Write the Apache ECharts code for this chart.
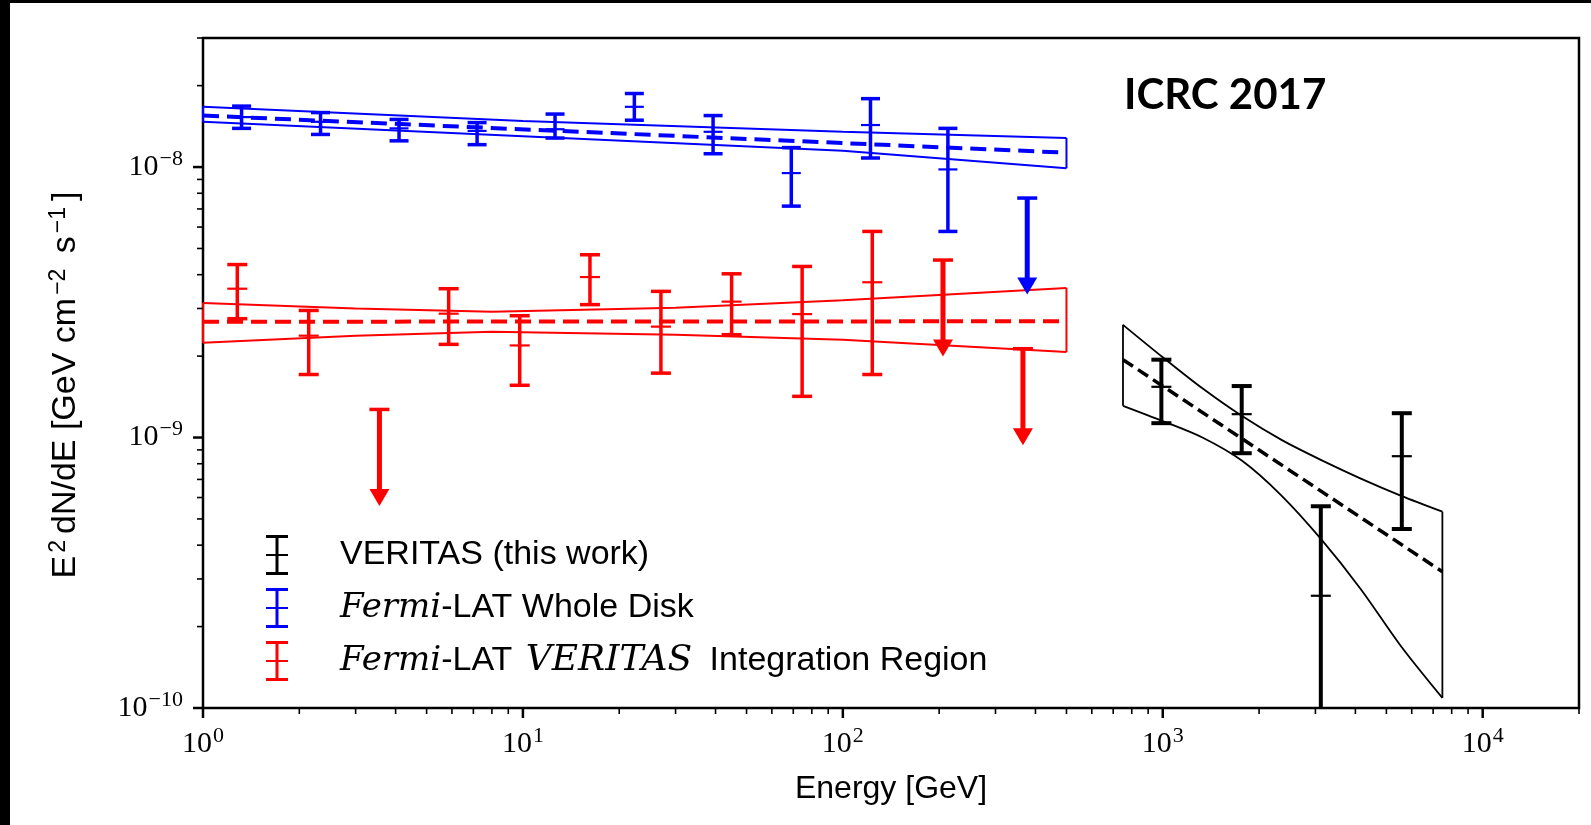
<!DOCTYPE html>
<html><head><meta charset="utf-8">
<script src="https://cdn.jsdelivr.net/npm/echarts@6/dist/echarts.min.js"></script>
<style>html,body{margin:0;padding:0;background:#000;} #c{width:1591px;height:825px;}</style>
</head><body><div id="c"></div>
<script>
// ---------------- data ----------------
// Fermi-LAT Whole Disk (blue)
const blueE  = [1.32, 2.33, 4.10, 7.19, 12.6, 22.3, 39.3, 69.0, 122, 213];
const blueF  = [1.53e-8, 1.47e-8, 1.39e-8, 1.36e-8, 1.38e-8, 1.67e-8, 1.35e-8, 9.5e-9, 1.43e-8, 9.8e-9];
const blueLo = [1.39e-8, 1.32e-8, 1.25e-8, 1.21e-8, 1.28e-8, 1.49e-8, 1.12e-8, 7.17e-9, 1.08e-8, 5.78e-9];
const blueHi = [1.68e-8, 1.59e-8, 1.50e-8, 1.46e-8, 1.57e-8, 1.87e-8, 1.55e-8, 1.18e-8, 1.79e-8, 1.39e-8];
const blueUlE = [377];
const blueUlF = [7.68e-9];
const blueBandE  = [1, 10, 100, 500];
const blueBandHi = [1.67e-8, 1.48e-8, 1.35e-8, 1.28e-8];
const blueBandLo = [1.47e-8, 1.30e-8, 1.15e-8, 9.9e-9];
const blueFitE = [1, 500];
const blueFitF = [1.55e-8, 1.13e-8];

// Fermi-LAT VERITAS Integration Region (red)
const redE  = [1.28, 2.14, 5.86, 9.77, 16.2, 27.0, 44.9, 74.6, 123.6];
const redF  = [3.55e-9, 2.38e-9, 2.87e-9, 2.19e-9, 3.92e-9, 2.57e-9, 3.18e-9, 2.86e-9, 3.75e-9];
const redLo = [2.75e-9, 1.71e-9, 2.21e-9, 1.56e-9, 3.10e-9, 1.73e-9, 2.40e-9, 1.42e-9, 1.71e-9];
const redHi = [4.36e-9, 2.95e-9, 3.55e-9, 2.82e-9, 4.74e-9, 3.47e-9, 4.03e-9, 4.29e-9, 5.78e-9];
const redUlE = [3.56, 205.6, 365.5];
const redUlF = [1.27e-9, 4.53e-9, 2.13e-9];
const redBandE  = [1, 3, 8, 30, 100, 500];
const redBandHi = [3.14e-9, 3.00e-9, 2.92e-9, 3.02e-9, 3.22e-9, 3.57e-9];
const redBandLo = [2.24e-9, 2.38e-9, 2.46e-9, 2.40e-9, 2.30e-9, 2.07e-9];
const redFitE = [1, 500];
const redFitF = [2.68e-9, 2.69e-9];

// VERITAS (black)
const blackE  = [990, 1765, 3119, 5587];
const blackF  = [1.54e-9, 1.22e-9, 2.60e-10, 8.53e-10];
const blackLo = [1.13e-9, 8.75e-10, 5e-11, 4.59e-10];
const blackHi = [1.94e-9, 1.55e-9, 5.57e-10, 1.23e-9];
const blackBandE  = [751, 1000, 1330, 1770, 2350, 3130, 4160, 5540, 7482];
const blackBandHi = [2.61e-9, 1.98e-9, 1.52e-9, 1.20e-9, 9.8e-10, 8.25e-10, 7.05e-10, 6.1e-10, 5.32e-10];
const blackBandLo = [1.31e-9, 1.15e-9, 1.0e-9, 8.2e-10, 6.1e-10, 4.2e-10, 2.75e-10, 1.7e-10, 1.09e-10];
const blackFitE = [751, 7482];
const blackFitF = [1.94e-9, 3.19e-10];

// axes
const X_MIN = 1, X_MAX = 2e4, Y_MIN = 1e-10, Y_MAX = 3e-8;
const xMajorTicks = [1, 10, 100, 1000, 10000];
const xMinorTicks = [2,3,4,5,6,7,8,9, 20,30,40,50,60,70,80,90, 200,300,400,500,600,700,800,900,
                     2000,3000,4000,5000,6000,7000,8000,9000, 20000];
const yMajorTicks = [1e-10, 1e-9, 1e-8];
const yMinorTicks = [2e-10,3e-10,4e-10,5e-10,6e-10,7e-10,8e-10,9e-10,
                     2e-9,3e-9,4e-9,5e-9,6e-9,7e-9,8e-9,9e-9, 2e-8, 3e-8];

const legendNames = ['VERITAS (this work)', 'Fermi-LAT Whole Disk', 'Fermi-LAT VERITAS Integration Region'];
const ARROW_RATIO = 0.44;

// ---------------- helpers ----------------
const zip = (a, b) => a.map((v, i) => [v, b[i]]);
const zip4 = (a, b, c, d) => a.map((v, i) => [v, b[i], c[i], d[i]]);
const measureCtx = document.createElement('canvas').getContext('2d');
function textWidth(t, size) { measureCtx.font = size + 'px "Liberation Serif"'; return measureCtx.measureText(t).width; }

function bandSeries(E, hi, lo, color, width, smooth) {
  const n = E.length - 1;
  const common = {type: 'line', symbol: 'none', silent: true, z: 2, smooth: smooth || false,
                  lineStyle: {color: color, width: width}, itemStyle: {color: color}};
  return [
    Object.assign({}, common, {data: zip(E, hi)}),
    Object.assign({}, common, {data: zip(E, lo)}),
    Object.assign({}, common, {smooth: false, data: [[E[0], hi[0]], [E[0], lo[0]]]}),
    Object.assign({}, common, {smooth: false, data: [[E[n], hi[n]], [E[n], lo[n]]]})
  ];
}
function fitSeries(E, F, color, width, dash) {
  return {type: 'line', data: zip(E, F), symbol: 'none', silent: true, z: 3,
          lineStyle: {color: color, width: width, type: dash}};
}
function errSeries(name, E, F, lo, hi, color, lw, capW) {
  return {
    type: 'custom', name: name, clip: true, z: 5, silent: true,
    itemStyle: {color: color},
    encode: {x: 0, y: 1},
    data: zip4(E, F, lo, hi),
    renderItem: function (params, api) {
      const x = api.value(0), y = api.value(1), lo = api.value(2), hi = api.value(3);
      const pc = api.coord([x, y]), pl = api.coord([x, lo]), ph = api.coord([x, hi]);
      const st = {stroke: color, lineWidth: lw};
      const h = capW / 2;
      return {type: 'group', children: [
        {type: 'line', shape: {x1: pc[0], y1: pl[1], x2: pc[0], y2: ph[1]}, style: st},
        {type: 'line', shape: {x1: pc[0]-h, y1: ph[1], x2: pc[0]+h, y2: ph[1]}, style: st},
        {type: 'line', shape: {x1: pc[0]-h, y1: pl[1], x2: pc[0]+h, y2: pl[1]}, style: st},
        {type: 'line', shape: {x1: pc[0]-h, y1: pc[1], x2: pc[0]+h, y2: pc[1]}, style: {stroke: color, lineWidth: 2.2}}
      ]};
    }
  };
}
function ulSeries(E, F, color) {
  return {
    type: 'custom', z: 5, silent: true, clip: false,
    itemStyle: {color: color},
    encode: {x: 0, y: 1},
    data: zip(E, F),
    renderItem: function (params, api) {
      const x = api.value(0), y = api.value(1);
      const p = api.coord([x, y]), t = api.coord([x, y * ARROW_RATIO]);
      const headH = 17, headW = 10;
      return {type: 'group', children: [
        {type: 'line', shape: {x1: p[0]-10, y1: p[1], x2: p[0]+10, y2: p[1]}, style: {stroke: color, lineWidth: 3.5}},
        {type: 'line', shape: {x1: p[0], y1: p[1], x2: t[0], y2: t[1]-headH+1}, style: {stroke: color, lineWidth: 5}},
        {type: 'polygon', shape: {points: [[t[0]-headW, t[1]-headH], [t[0]+headW, t[1]-headH], [t[0], t[1]]]}, style: {fill: color}}
      ]};
    }
  };
}
function tickSeries(values, axis, len, lw) {
  return {
    type: 'custom', z: 6, silent: true, clip: false,
    encode: {x: 0, y: 1},
    data: values.map(v => axis === 'x' ? [v, Y_MIN] : [X_MIN, v]),
    renderItem: function (params, api) {
      const p = api.coord([api.value(0), api.value(1)]);
      const shape = axis === 'x' ? {x1: p[0], y1: p[1], x2: p[0], y2: p[1] + len}
                                 : {x1: p[0], y1: p[1], x2: p[0] - len, y2: p[1]};
      return {type: 'line', shape: shape, style: {stroke: '#000', lineWidth: lw}};
    }
  };
}
const BASE_SIZE = 30, SUP_SIZE = 22;
function tickLabelSeries(values, axis) {
  return {
    type: 'custom', z: 6, silent: true, clip: false,
    encode: {x: 0, y: 1},
    data: values.map(v => axis === 'x' ? [v, Y_MIN] : [X_MIN, v]),
    renderItem: function (params, api) {
      const xv = api.value(0), yv = api.value(1);
      const p = api.coord([xv, yv]);
      const isX = axis === 'x';
      const r = Math.round(Math.log10(isX ? xv : yv));
      const base = '10', sup = r < 0 ? '\u2212' + (-r) : String(r);
      const wb = textWidth(base, BASE_SIZE), ws = textWidth(sup, SUP_SIZE) + 1;
      const bx = isX ? p[0] - (wb + ws) / 2 : p[0] - 20 - ws - wb;
      const cy = isX ? p[1] + 36 : p[1];
      return {type: 'group', children: [
        {type: 'text', x: bx, y: cy, style: {text: base, fontSize: BASE_SIZE, fontFamily: 'Liberation Serif',
          fill: '#000', align: 'left', verticalAlign: 'middle'}},
        {type: 'text', x: bx + wb + 1, y: cy - 8, style: {text: sup, fontSize: SUP_SIZE, fontFamily: 'Liberation Serif',
          fill: '#000', align: 'left', verticalAlign: 'middle'}}
      ]};
    }
  };
}
const errIcon = 'path://M0,0H22V3H0Z M9.5,0H12.5V40H9.5Z M0,19H22V21H0Z M0,37H22V40H0Z';

const chart = echarts.init(document.getElementById('c'), null, {renderer: 'canvas'});
chart.setOption({
  backgroundColor: '#000',
  animation: false,
  graphic: [
    {type: 'rect', z: -100, silent: true, shape: {x: 10, y: 3, width: 1581, height: 822}, style: {fill: '#fff'}},
    {type: 'text', left: 1124, top: 74, silent: true,
     style: {text: 'ICRC 2017', font: 'bold 42px Lato', fill: '#000'}},
    {type: 'text', x: 891, y: 789, silent: true,
     style: {text: 'Energy [GeV]', font: '32px "Liberation Sans"', fill: '#000', align: 'center', verticalAlign: 'middle', textAlign: 'center', textVerticalAlign: 'middle'}},
    {type: 'text', x: 66, y: 385, rotation: Math.PI / 2, silent: true,
     style: {
       text: '{n|E}{s|2}{n|dN/dE [GeV cm}{s|\u22122}{n| s}{s|\u22121}{n|]}',
       align: 'center', verticalAlign: 'middle', textAlign: 'center', textVerticalAlign: 'middle',
       rich: {
         n: {fontFamily: 'Liberation Sans', fontSize: 34, lineHeight: 34, fill: '#000', color: '#000'},
         s: {fontFamily: 'Liberation Sans', fontSize: 23, lineHeight: 23, fill: '#000', color: '#000', padding: [0, 6, 15, 3]}
       }
     }}
  ],
  grid: {left: 203, top: 38, right: 12, bottom: 117, show: true, backgroundColor: '#fff',
         borderColor: '#000', borderWidth: 2.5, containLabel: false},
  xAxis: {
    type: 'log', logBase: 10, min: X_MIN, max: X_MAX,
    axisLine: {show: false}, axisTick: {show: false}, splitLine: {show: false}, minorTick: {show: false},
    axisLabel: {show: false}
  },
  yAxis: {
    type: 'log', logBase: 10, min: Y_MIN, max: Y_MAX,
    axisLine: {show: false}, axisTick: {show: false}, splitLine: {show: false}, minorTick: {show: false},
    axisLabel: {show: false}
  },
  legend: {
    orient: 'vertical', left: 261, top: 530, itemWidth: 22, itemHeight: 40, itemGap: 13,
    selectedMode: false,
    data: legendNames.map(n => ({name: n, icon: errIcon})),
    formatter: function (name) {
      if (name === legendNames[0]) return '{sp|}{n|VERITAS (this work)}';
      if (name === legendNames[1]) return '{sp|}{it|Fermi}{n|-LAT Whole Disk}';
      return '{sp|}{it|Fermi}{n|-LAT }{itv|VERITAS}{n| Integration Region}';
    },
    textStyle: {
      color: '#000', fontSize: 34, fontFamily: 'Liberation Sans',
      rich: {
        sp: {width: 47},
        n: {fontFamily: 'Liberation Sans', fontSize: 34, color: '#000'},
        it: {fontFamily: 'DejaVu Serif', fontStyle: 'italic', fontSize: 34, color: '#000'},
        itv: {fontFamily: 'DejaVu Serif', fontStyle: 'italic', fontSize: 36, color: '#000', padding: [0, 8, 0, 4]}
      }
    }
  },
  series: [].concat(
    bandSeries(blueBandE, blueBandHi, blueBandLo, '#0000ff', 2),
    bandSeries(redBandE, redBandHi, redBandLo, '#ff0000', 2),
    bandSeries(blackBandE, blackBandHi, blackBandLo, '#000000', 1.8, 0.3),
    [
      fitSeries(blueFitE, blueFitF, '#0000ff', 4, [16, 8]),
      fitSeries(redFitE, redFitF, '#ff0000', 4, [16, 8]),
      fitSeries(blackFitE, blackFitF, '#000000', 3.5, [12, 6]),
      errSeries(legendNames[1], blueE, blueF, blueLo, blueHi, '#0000ff', 3.5, 19),
      errSeries(legendNames[2], redE, redF, redLo, redHi, '#ff0000', 3.5, 20),
      errSeries(legendNames[0], blackE, blackF, blackLo, blackHi, '#000000', 4, 20),
      ulSeries(blueUlE, blueUlF, '#0000ff'),
      ulSeries(redUlE, redUlF, '#ff0000'),
      tickSeries(xMajorTicks, 'x', 10, 2.5),
      tickSeries(xMinorTicks, 'x', 6, 1.6),
      tickSeries(yMajorTicks, 'y', 10, 2.5),
      tickSeries(yMinorTicks, 'y', 6, 1.6),
      tickLabelSeries(xMajorTicks, 'x'),
      tickLabelSeries(yMajorTicks, 'y')
    ]
  )
});
</script>
</body></html>
